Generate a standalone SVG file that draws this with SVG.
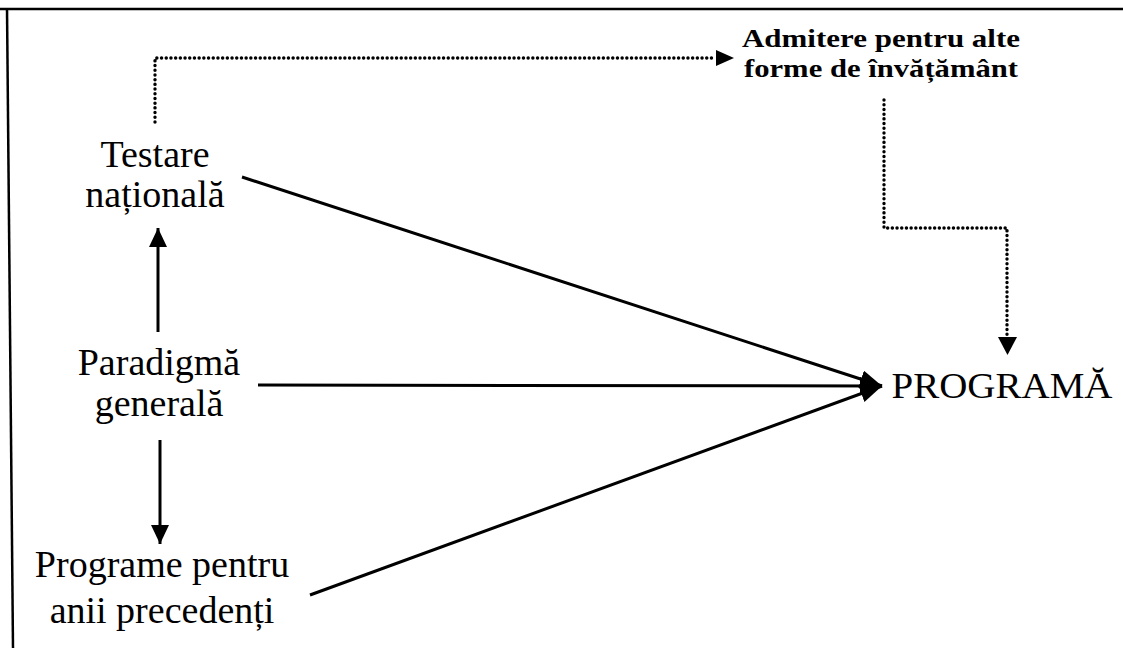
<svg xmlns="http://www.w3.org/2000/svg" width="1123" height="648" viewBox="0 0 1123 648">
<style>
.t{font-family:"Liberation Serif","Times New Roman",serif;fill:#000;text-anchor:middle}
.big{font-size:38px}
.sm{font-size:25px;font-weight:bold}
.solid{stroke:#000;stroke-width:3;fill:none}
.dot{stroke:#000;stroke-width:3.4;fill:none;stroke-dasharray:0.1 4.6;stroke-linecap:round}
</style>
<defs>
<marker id="ah" markerUnits="userSpaceOnUse" markerWidth="24" markerHeight="20" refX="22" refY="9" orient="auto">
<path d="M0,0 L22,9 L0,18 Z" fill="#000"/>
</marker>
<marker id="ahs" markerUnits="userSpaceOnUse" markerWidth="22" markerHeight="20" refX="19" refY="9" orient="auto">
<path d="M0,0 L19,9 L0,18 Z" fill="#000"/>
</marker>
</defs>
<rect width="1123" height="648" fill="#fff"/>
<g id="frame">
<line x1="0" y1="9" x2="1123" y2="9" stroke="#000" stroke-width="2.5"/>
<line x1="7" y1="8" x2="13" y2="648" stroke="#000" stroke-width="2.5"/>
</g>
<g id="connectors">
<line class="solid" x1="242" y1="177" x2="882" y2="386" marker-end="url(#ah)"/>
<line class="solid" x1="258" y1="385" x2="882" y2="386" marker-end="url(#ah)"/>
<line class="solid" x1="310" y1="595" x2="882" y2="386" marker-end="url(#ah)"/>
<line class="solid" x1="158" y1="332" x2="158" y2="228" marker-end="url(#ahs)"/>
<line class="solid" x1="160" y1="440" x2="160" y2="544" marker-end="url(#ahs)"/>
<polyline class="dot" points="155,122 155,58 716,58"/>
<path d="M716,50 L734,58 L716,66 Z" fill="#000"/>
<polyline class="dot" points="884,100 884,228 1007,228 1007,337"/>
<path d="M998,337 L1017,337 L1007.5,355 Z" fill="#000"/>
</g>
<g id="testare">
<text class="t big" x="155" y="167">Testare</text>
<text class="t big" x="155" y="207">națională</text>
</g>
<g id="paradigma">
<text class="t big" x="159" y="375">Paradigmă</text>
<text class="t big" x="159" y="416">generală</text>
</g>
<g id="programe">
<text class="t big" x="162" y="577">Programe pentru</text>
<text class="t big" x="162" y="623">anii precedenți</text>
</g>
<g id="admitere">
<text class="t sm" x="881" y="47" textLength="278" lengthAdjust="spacingAndGlyphs">Admitere pentru alte</text>
<text class="t sm" x="881" y="77" textLength="274" lengthAdjust="spacingAndGlyphs">forme de învățământ</text>
</g>
<g id="programa">
<text class="t" x="1002" y="398" style="font-size:36px" textLength="221" lengthAdjust="spacingAndGlyphs">PROGRAMĂ</text>
</g>
</svg>
